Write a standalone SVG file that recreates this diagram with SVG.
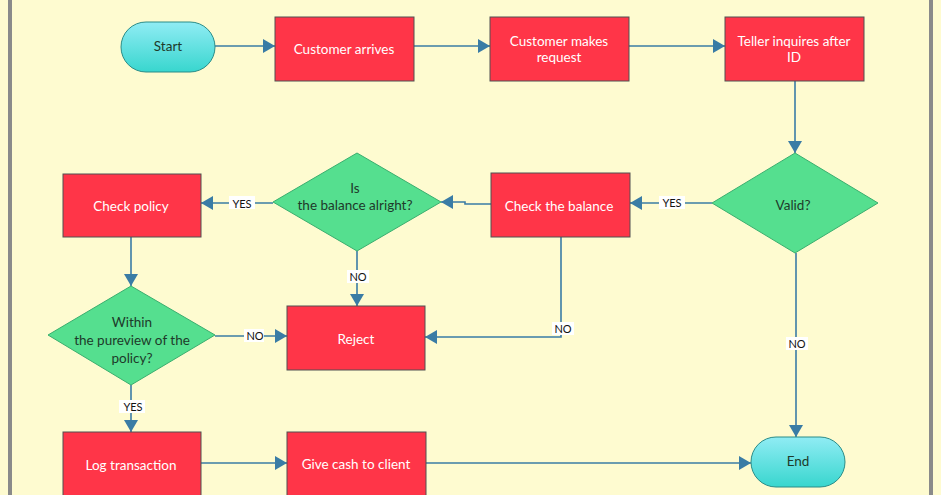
<svg xmlns="http://www.w3.org/2000/svg" width="941" height="495" viewBox="0 0 941 495">
<style>
.box{fill:#FF3548;stroke:#505050;stroke-width:1}
.dia{fill:#55DF8F;stroke:#3AAE6E;stroke-width:1}
.term{fill:url(#tg);stroke:#2A8C88;stroke-width:1}
.wt{font-family:Lato,"Liberation Sans",sans-serif;font-size:13.5px;fill:#FFFFFF;text-anchor:middle}
.dt{font-family:Lato,"Liberation Sans",sans-serif;font-size:13.5px;fill:#1E3A2A;text-anchor:middle}
.ln{stroke:#3A7CA5;stroke-width:1.6;fill:none;marker-end:url(#ah)}
.lb{font-family:Lato,"Liberation Sans",sans-serif;font-size:11px;fill:#111;text-anchor:middle}
.lbg{fill:#FFFFFF}
</style>
<defs>
<linearGradient id="tg" x1="0" y1="0" x2="0" y2="1"><stop offset="0" stop-color="#90ECF4"/><stop offset="1" stop-color="#38D6CE"/></linearGradient>
<marker id="ah" viewBox="0 0 12 14" refX="12" refY="7" markerWidth="12" markerHeight="14" markerUnits="userSpaceOnUse" orient="auto"><path d="M0,0 L12,7 L0,14 Z" fill="#3A7CA5"/></marker>
</defs>
<rect x="0" y="0" width="941" height="495" fill="#FEFBD0"/>
<rect x="8" y="0" width="4" height="495" fill="#8A8A8A"/>
<rect x="929" y="0" width="4" height="495" fill="#8A8A8A"/>
<g id="connectors">
<path class="ln" d="M215,46 H275"/>
<path class="ln" d="M414,46 H490"/>
<path class="ln" d="M629,46 H725"/>
<path class="ln" d="M795,81 V153"/>
<path class="ln" d="M712,203 H630"/>
<path class="ln" d="M491,204 H465 V202 H441"/>
<path class="ln" d="M273,203 H201"/>
<path class="ln" d="M357,251 V306"/>
<path class="ln" d="M561,237 V337 H425"/>
<path class="ln" d="M131,237 V286"/>
<path class="ln" d="M215,336 H287"/>
<path class="ln" d="M131,385 V432"/>
<path class="ln" d="M201,463 H287"/>
<path class="ln" d="M426,463 H751"/>
<path class="ln" d="M796,253 V437"/>
<rect class="lbg" x="659" y="196" width="26" height="13"/><text class="lb" x="672" y="207">YES</text>
<rect class="lbg" x="229" y="196" width="26" height="13"/><text class="lb" x="242" y="208">YES</text>
<rect class="lbg" x="347" y="270" width="22" height="13"/><text class="lb" x="358" y="281">NO</text>
<rect class="lbg" x="552" y="322" width="22" height="13"/><text class="lb" x="563" y="333">NO</text>
<rect class="lbg" x="244" y="329" width="20" height="13"/><text class="lb" x="255" y="340">NO</text>
<rect class="lbg" x="119" y="400" width="26" height="13"/><text class="lb" x="133" y="411">YES</text>
<rect class="lbg" x="786" y="337" width="22" height="13"/><text class="lb" x="797" y="348">NO</text>
</g>
<g id="start"><rect class="term" x="121" y="22" width="94" height="50" rx="25"/><text class="dt" x="168" y="51">Start</text></g>
<g id="arrives"><rect class="box" x="275" y="17" width="139" height="64"/><text class="wt" x="344" y="54">Customer arrives</text></g>
<g id="request"><rect class="box" x="490" y="17" width="139" height="64"/><text class="wt" x="559" y="46">Customer makes</text><text class="wt" x="559" y="62">request</text></g>
<g id="teller"><rect class="box" x="725" y="17" width="139" height="64"/><text class="wt" x="794" y="46">Teller inquires after</text><text class="wt" x="794" y="62">ID</text></g>
<g id="valid"><polygon class="dia" points="795,153 878,203 795,253 712,203"/><text class="dt" x="793" y="210">Valid?</text></g>
<g id="balance"><rect class="box" x="491" y="173" width="139" height="64"/><text class="wt" x="559" y="211">Check the balance</text></g>
<g id="isbal"><polygon class="dia" points="357,153 441,202 357,251 273,202"/><text class="dt" x="355" y="193">Is</text><text class="dt" x="355" y="210">the balance  alright?</text></g>
<g id="policy"><rect class="box" x="63" y="174" width="138" height="63"/><text class="wt" x="131" y="211">Check policy</text></g>
<g id="within"><polygon class="dia" points="131,286 215,335 131,385 48,335"/><text class="dt" x="132" y="327">Within</text><text class="dt" x="132" y="345">the pureview  of the</text><text class="dt" x="132" y="363">policy?</text></g>
<g id="reject"><rect class="box" x="287" y="306" width="138" height="64"/><text class="wt" x="356" y="344">Reject</text></g>
<g id="log"><rect class="box" x="63" y="432" width="138" height="70"/><text class="wt" x="131" y="470">Log transaction</text></g>
<g id="give"><rect class="box" x="287" y="432" width="139" height="70"/><text class="wt" x="356" y="469">Give cash to client</text></g>
<g id="end"><rect class="term" x="751" y="437" width="94" height="50" rx="25"/><text class="dt" x="798" y="466">End</text></g>
</svg>
